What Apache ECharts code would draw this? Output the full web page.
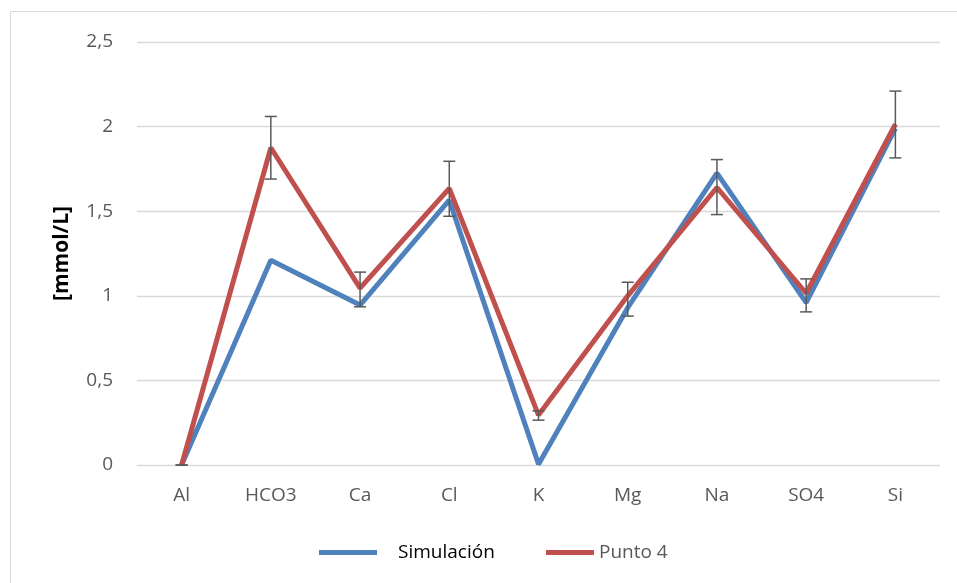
<!DOCTYPE html>
<html>
<head>
    <meta charset="utf-8">
    <title>ECharts</title>
    <script src="https://cdn.jsdelivr.net/npm/echarts@6/dist/echarts.min.js"></script>
</head>
<body style="margin:0">
    <div id="main" style="width: 957px;height:583px;"></div>
    <script type="text/javascript">
        var categories = ['Al', 'HCO3', 'Ca', 'Cl', 'K', 'Mg', 'Na', 'SO4', 'Si'];
        var simulacion = [0, 1.21, 0.945, 1.565, 0.005, 0.93, 1.725, 0.96, 1.99];
        var punto4 = [0, 1.875, 1.045, 1.635, 0.295, 1.0, 1.64, 1.015, 2.015];
        // barras de error de Punto 4 (min, max)
        var errLow = [0, 1.69, 0.935, 1.47, 0.265, 0.88, 1.48, 0.905, 1.815];
        var errHigh = [0, 2.06, 1.14, 1.795, 0.32, 1.08, 1.805, 1.10, 2.21];
        var yTicks = ['0', '0,5', '1', '1,5', '2', '2,5'];

        var myChart = echarts.init(document.getElementById('main'));

        var errData = [];
        for (var i = 0; i < categories.length; i++) {
            errData.push([i, errLow[i], errHigh[i]]);
        }

        var font = '"Open Sans", "Noto Sans", sans-serif';

        var option = {
            backgroundColor: '#ffffff',
            animation: false,
            graphic: [{
                type: 'rect',
                shape: { x: 10.5, y: 11.5, width: 960, height: 620 },
                style: { fill: 'none', stroke: '#d9d9d9', lineWidth: 1 },
                silent: true
            }],
            grid: { left: 137, right: 17, top: 42, bottom: 118 },
            legend: [{
                data: ['Simulación'],
                left: 314,
                top: 538,
                itemWidth: 58,
                itemHeight: 20,
                icon: 'path://M0,7.5 L58,7.5 L58,12.5 L0,12.5 Z',
                textStyle: { color: '#000', fontSize: 19, fontFamily: font, padding: [-6, 0, 0, 16] }
            }, {
                data: ['Punto 4'],
                left: 541,
                top: 538,
                itemWidth: 48,
                itemHeight: 20,
                icon: 'path://M0,7.5 L48,7.5 L48,12.5 L0,12.5 Z',
                textStyle: { color: '#595959', fontSize: 19, fontFamily: font, padding: [2, 0, 0, 0] }
            }],
            xAxis: {
                type: 'category',
                data: categories,
                boundaryGap: true,
                axisLine: { show: true, lineStyle: { color: '#d9d9d9', width: 1 } },
                axisTick: { show: false },
                axisLabel: { color: '#595959', fontSize: 19, fontFamily: font, margin: 21 }
            },
            yAxis: {
                type: 'value',
                min: 0,
                max: 2.5,
                interval: 0.5,
                name: '[mmol/L]',
                nameLocation: 'middle',
                nameGap: 64,
                nameTextStyle: { color: '#000', fontSize: 21, fontWeight: 'bold', fontFamily: font },
                axisLine: { show: false },
                axisTick: { show: false },
                splitLine: { lineStyle: { color: '#d9d9d9', width: 1.3 } },
                axisLabel: {
                    color: '#595959', fontSize: 19, fontFamily: font, margin: 24,
                    formatter: function (v) { return yTicks[Math.round(v / 0.5)]; }
                }
            },
            series: [{
                name: 'Simulación',
                type: 'line',
                data: simulacion,
                showSymbol: false,
                symbol: 'none',
                color: '#4f81bd',
                lineStyle: { width: 5, color: '#4f81bd' },
                z: 3
            }, {
                name: 'Punto 4',
                type: 'line',
                data: punto4,
                showSymbol: false,
                symbol: 'none',
                color: '#c0504d',
                lineStyle: { width: 5, color: '#c0504d' },
                z: 4
            }, {
                name: 'error',
                type: 'custom',
                data: errData,
                z: 5,
                renderItem: function (params, api) {
                    var lo = api.coord([api.value(0), api.value(1)]);
                    var hi = api.coord([api.value(0), api.value(2)]);
                    var w = 6;
                    var st = { stroke: '#595959', lineWidth: 1.5 };
                    return {
                        type: 'group',
                        children: [
                            { type: 'line', shape: { x1: hi[0], y1: hi[1], x2: lo[0], y2: lo[1] }, style: st },
                            { type: 'line', shape: { x1: hi[0] - w, y1: hi[1], x2: hi[0] + w, y2: hi[1] }, style: st },
                            { type: 'line', shape: { x1: lo[0] - w, y1: lo[1], x2: lo[0] + w, y2: lo[1] }, style: st }
                        ]
                    };
                }
            }]
        };

        myChart.setOption(option);
    </script>
</body>
</html>
